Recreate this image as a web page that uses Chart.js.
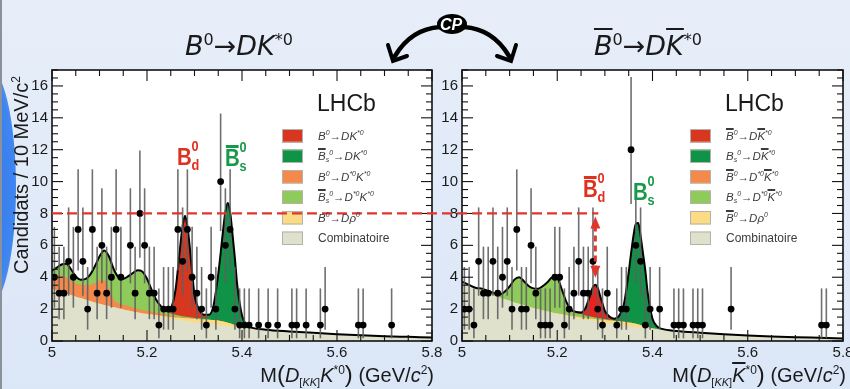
<!DOCTYPE html>
<html>
<head>
<meta charset="utf-8">
<script src="https://cdn.jsdelivr.net/npm/chart.js@4.4.1/dist/chart.umd.min.js"></script>
<style>
  body { margin: 0; width: 850px; height: 389px; overflow: hidden; position: relative;
         background: linear-gradient(180deg, #e7eef9 0%, #dbe6f7 100%);
         font-family: "Liberation Sans", Arial, sans-serif; color: #1a1a1a; }
  canvas { position: absolute; top: 0; }
  #cL { left: 0; }
  #cR { left: 440px; }
  .abs { position: absolute; white-space: nowrap; }
  #blob { left: -44px; top: 64px; width: 60px; height: 246px; border-radius: 50%;
          background: radial-gradient(ellipse at 30% 50%, #2c6fe9 0%, #3f86f0 70%, #7fb0f4 100%); }
  #edge { left: 0; top: 0; width: 2px; height: 389px; background: #8b919b; }
  .title { font-family: "DejaVu Sans", sans-serif; font-style: italic; font-size: 27px; line-height: 30px;
           width: 240px; text-align: center; top: 31px; }
  .title sup { font-size: 16px; font-style: normal; vertical-align: 10px; line-height: 0; }
  .ol { text-decoration: overline; text-decoration-thickness: 1.5px; }
  .ytitle { font-size: 20px; line-height: 24px; width: 240px; height: 24px; text-align: center;
            left: -99px; top: 163px; transform: rotate(-90deg); }
  .ytitle sup, .xtitle sup { font-size: 12px; vertical-align: 8px; line-height: 0; }
  .xtitle { font-size: 20px; line-height: 24px; width: 240px; text-align: right; top: 362px; }
  .xtitle sub { font-size: 11px; vertical-align: -4px; line-height: 0; }
  .xtitle .big { font-size: 24px; }
  .lhcb { font-size: 23px; line-height: 23px; top: 92px; }
  .leg { font-size: 11.5px; line-height: 14px; font-style: italic; color: #3b3b3b; }
  .leg sup, .leg sub { font-size: 7px; line-height: 0; }
  .leg sup { vertical-align: 5px; }
  .leg sub { vertical-align: -2px; }
  .leg.plain { font-style: normal; font-size: 12px; }
  .pk { position: absolute; width: 40px; height: 34px; transform: scaleX(.85); transform-origin: 0 0; font-weight: bold; }
  .pk .b { position: absolute; left: 0; top: 5px; font-size: 24px; line-height: 24px; }
  .pk .up { position: absolute; left: 17px; top: -2px; font-size: 15px; line-height: 15px; }
  .pk .dn { position: absolute; left: 17px; top: 17px; font-size: 15px; line-height: 15px; }
  .pk .bar { position: absolute; left: 1px; top: 4px; width: 15px; height: 2.5px; background: currentColor; }
  .red { color: #e0301e; }
  .grn { color: #169a49; }
</style>
</head>
<body>
<div class="abs" id="blob"></div>
<div class="abs" id="edge"></div>
<canvas id="cL" width="460" height="389" style="width:460px;height:389px"></canvas>
<canvas id="cR" width="430" height="389" style="width:430px;height:389px"></canvas>

<div class="abs title" style="left:119px"><i>B</i><sup>0</sup>→<i>DK</i><sup>*0</sup></div>
<div class="abs title" style="left:528px"><i class="ol">B</i><sup>0</sup>→<i>D<span class="ol">K</span></i><sup>*0</sup></div>

<svg class="abs" style="left:0;top:0" width="850" height="70">
  <path d="M440 27 Q411 29 395 56" fill="none" stroke="#000" stroke-width="4.5" stroke-linecap="round"/>
  <path d="M388 45 L393 61 L407 56" fill="none" stroke="#000" stroke-width="4" stroke-linejoin="miter" stroke-linecap="round"/>
  <path d="M464 27 Q493 29 509 56" fill="none" stroke="#000" stroke-width="4.5" stroke-linecap="round"/>
  <path d="M516 45 L511 61 L497 56" fill="none" stroke="#000" stroke-width="4" stroke-linejoin="miter" stroke-linecap="round"/>
  <ellipse cx="452" cy="24" rx="15" ry="10" fill="#000"/>
  <text x="451" y="30" text-anchor="middle" fill="#fff" font-family="Liberation Sans, Arial" font-weight="bold" font-style="italic" font-size="16">CP</text>
</svg>

<div class="abs ytitle">Candidats / 10 MeV/c<sup>2</sup></div>
<div class="abs xtitle" style="left:194px">M<span class="big">(</span><i>D</i><sub>[<i>KK</i>]</sub><i>K</i><sup>*0</sup><span class="big">)</span> (GeV/<i>c</i><sup>2</sup>)</div>
<div class="abs xtitle" style="left:606px">M<span class="big">(</span><i>D</i><sub>[<i>KK</i>]</sub><i class="ol">K</i><sup>*0</sup><span class="big">)</span> (GeV/<i>c</i><sup>2</sup>)</div>

<div class="abs lhcb" style="left:317px">LHCb</div>
<div class="abs lhcb" style="left:725px">LHCb</div>

<div class="pk red" style="left:177px;top:140px"><span class="b">B</span><span class="up">0</span><span class="dn">d</span></div>
<div class="pk grn" style="left:225px;top:141px"><span class="bar"></span><span class="b">B</span><span class="up">0</span><span class="dn">s</span></div>
<div class="pk red" style="left:583px;top:172px"><span class="bar"></span><span class="b">B</span><span class="up">0</span><span class="dn">d</span></div>
<div class="pk grn" style="left:633px;top:175px"><span class="b">B</span><span class="up">0</span><span class="dn">s</span></div>

<script>
// common mass grid (GeV/c^2) on which the fitted components were read
const massGrid = [5.00,5.01,5.02,5.03,5.04,5.05,5.06,5.07,5.08,5.09,
  5.10,5.11,5.12,5.13,5.14,5.15,5.16,5.17,5.18,5.19,
  5.20,5.21,5.22,5.23,5.24,5.25,5.26,5.265,5.27,5.275,
  5.28,5.285,5.29,5.295,5.30,5.31,5.32,5.33,5.34,5.35,
  5.355,5.36,5.365,5.37,5.375,5.38,5.385,5.39,5.40,5.41,
  5.42,5.45,5.50,5.55,5.60,5.65,5.70,5.75,5.80];

// left panel: B0 -> D K*0
const combL = [3.30,3.19,3.08,2.98,2.88,2.78,2.69,2.60,2.51,2.42,
  2.34,2.26,2.19,2.11,2.04,1.97,1.91,1.84,1.78,1.72,
  1.66,1.61,1.55,1.50,1.45,1.40,1.35,1.33,1.31,1.28,
  1.26,1.24,1.22,1.20,1.18,1.14,1.10,1.07,1.03,1.00,
  0.98,0.97,0.95,0.93,0.92,0.90,0.89,0.87,0.84,0.81,
  0.79,0.71,0.60,0.51,0.43,0.36,0.30,0.26,0.22];
const rhoL = [0,0,0,0,0,0,0,0,0,0,
  0,0,0,0,0,0,0.01,0.01,0.02,0.02,
  0.05,0.07,0.08,0.09,0.10,0.11,0.13,0.14,0.15,0.16,
  0.17,0.18,0.19,0.20,0.21,0.23,0.25,0.27,0.28,0.28,
  0.27,0.26,0.24,0.22,0.19,0.15,0.11,0.07,0.03,0.01,
  0,0,0,0,0,0,0,0,0];
const dstL = [0.75,0.95,1.05,1.00,0.90,0.85,0.85,0.90,1.00,1.20,
  1.45,1.55,1.10,0.50,0.35,0.30,0.28,0.25,0.22,0.20,
  0.18,0.16,0.14,0.12,0.10,0.08,0.06,0.05,0.05,0.04,
  0.04,0.03,0.03,0.03,0.02,0.02,0.01,0,0,0,
  0,0,0,0,0,0,0,0,0,0,
  0,0,0,0,0,0,0,0,0];
const bsDstL = [0.35,0.46,0.67,0.87,0.72,0.42,0.31,0.38,0.64,1.05,
  1.51,1.87,2.01,1.89,1.61,1.63,1.85,2.16,2.42,2.42,
  2.01,1.36,0.78,0.44,0.20,0.14,0.10,0.09,0.08,0.07,
  0.06,0.05,0.05,0.04,0.04,0.03,0.02,0.01,0,0,
  0,0,0,0,0,0,0,0,0,0,
  0,0,0,0,0,0,0,0,0];
const bsL = [0,0,0,0,0,0,0,0,0,0,
  0,0,0,0,0,0,0,0,0,0,
  0,0,0,0,0,0,0,0,0,0,
  0,0,0,0,0,0.03,0.10,0.23,0.89,2.92,
  4.25,5.67,6.91,7.50,6.99,5.65,4.20,2.56,0.73,0.18,
  0.05,0,0,0,0,0,0,0,0];
const bdL = [0,0,0,0,0,0,0,0,0,0,
  0,0,0,0,0,0,0,0,0,0,
  0,0,0,0.01,0.05,0.32,1.56,2.89,4.36,5.65,
  6.32,5.70,4.41,2.83,1.45,0.50,0.17,0.06,0.02,0,
  0,0,0,0,0,0,0,0,0,0,
  0,0,0,0,0,0,0,0,0];

// right panel: B0bar -> D K*0bar
const combR = [3.72,3.58,3.44,3.31,3.18,3.06,2.94,2.83,2.72,2.62,
  2.52,2.42,2.33,2.24,2.15,2.07,1.99,1.91,1.84,1.77,
  1.70,1.64,1.57,1.51,1.45,1.40,1.34,1.32,1.29,1.27,
  1.24,1.22,1.19,1.17,1.15,1.10,1.06,1.02,0.98,0.94,
  0.92,0.90,0.89,0.87,0.85,0.83,0.82,0.80,0.77,0.74,
  0.71,0.63,0.52,0.43,0.35,0.29,0.24,0.20,0.16];
const rhoR = [0,0,0,0,0,0,0,0,0,0,
  0,0,0,0,0,0,0.01,0.01,0.02,0.02,
  0.04,0.05,0.06,0.07,0.08,0.09,0.10,0.11,0.12,0.13,
  0.14,0.14,0.15,0.16,0.17,0.19,0.20,0.22,0.22,0.22,
  0.22,0.21,0.19,0.18,0.15,0.12,0.09,0.06,0.02,0.01,
  0,0,0,0,0,0,0,0,0];
const dstR = [0,0,0,0,0,0,0,0,0,0,
  0,0,0,0,0,0,0,0,0,0,
  0,0,0,0,0,0,0,0,0,0,
  0,0,0,0,0,0,0,0,0,0,
  0,0,0,0,0,0,0,0,0,0,
  0,0,0,0,0,0,0,0,0];
const bsDstR = [0,0,0,0.02,0.12,0.14,0.14,0.15,0.20,0.48,
  0.90,1.43,1.67,1.51,1.30,1.23,1.28,1.53,1.84,2.21,
  2.21,1.51,0.77,0.37,0.27,0.20,0.16,0.14,0.12,0.11,
  0.10,0.09,0.08,0.07,0.06,0.04,0.03,0.02,0.01,0,
  0,0,0,0,0,0,0,0,0,0,
  0,0,0,0,0,0,0,0,0];
const bsR = [0,0,0,0,0,0,0,0,0,0,
  0,0,0,0,0,0,0,0,0,0,
  0,0,0,0,0,0,0,0,0,0,
  0,0,0,0,0,0.02,0.06,0.30,1.09,3.14,
  4.36,5.49,6.27,6.35,5.60,4.55,3.49,2.14,0.61,0.15,
  0.05,0,0,0,0,0,0,0,0];
const bdR = [0,0,0,0,0,0,0,0,0,0,
  0,0,0,0,0,0,0,0,0,0,
  0,0,0,0,0.02,0.10,0.50,0.95,1.42,1.88,
  2.05,1.88,1.42,0.95,0.50,0.17,0.05,0.02,0,0,
  0,0,0,0,0,0,0,0,0,0,
  0,0,0,0,0,0,0,0,0];

// candidates per 10 MeV bin, 80 bins from 5.00 to 5.80
const countsL = [4,3,3,5,4,7,5,2,7,3,
  6,3,4,7,4,0,6,3,8,6,
  3,3,1,2,2,2,7,5,7,4,
  3,2,1,4,2,10,6,7,2,1,
  1,1,0,1,0,1,0,1,0,0,
  1,1,0,1,0,0,1,2,0,0,
  0,0,0,0,1,1,0,0,0,0,
  0,1,0,0,0,0,0,0,0,0];
const countsR = [2,2,1,5,3,3,5,3,4,5,
  2,7,2,2,6,3,1,1,1,4,
  4,1,2,3,5,3,3,5,2,1,
  3,0,1,2,2,12,6,5,1,2,
  0,2,0,0,1,1,1,0,1,1,
  1,0,0,0,0,0,2,0,0,0,
  0,0,0,0,0,0,0,0,0,0,
  0,0,0,0,0,1,1,0,0,0];

// 68% Poisson interval for n = 0..12
const poissonLow  = [0, 0.17, 0.71, 1.37, 2.09, 2.84, 3.62, 4.42, 5.23, 6.06, 6.89, 7.73, 8.59];
const poissonHigh = [1.84, 3.30, 4.64, 5.92, 7.16, 8.38, 9.58, 10.77, 11.95, 13.11, 14.27, 15.42, 16.56];

const xTickValues = [5, 5.2, 5.4, 5.6, 5.8];
const xTickLabels = ['5', '5.2', '5.4', '5.6', '5.8'];
const yTickValues = [0, 2, 4, 6, 8, 10, 12, 14, 16];
const yTickLabels = ['0', '2', '4', '6', '8', '10', '12', '14', '16'];

const legendLeft = [
  '<i>B</i><sup>0</sup>→<i>DK</i><sup>*0</sup>',
  '<i class="ol">B</i><sub>s</sub><sup>0</sup>→<i>DK</i><sup>*0</sup>',
  '<i>B</i><sup>0</sup>→<i>D</i><sup>*0</sup><i>K</i><sup>*0</sup>',
  '<i class="ol">B</i><sub>s</sub><sup>0</sup>→<i>D</i><sup>*0</sup><i>K</i><sup>*0</sup>',
  '<i>B</i><sup>0</sup>→<i>D</i>ρ<sup>0</sup>',
  'Combinatoire'
];
const legendRight = [
  '<i class="ol">B</i><sup>0</sup>→<i>D<span class="ol">K</span></i><sup>*0</sup>',
  '<i>B</i><sub>s</sub><sup>0</sup>→<i>D<span class="ol">K</span></i><sup>*0</sup>',
  '<i class="ol">B</i><sup>0</sup>→<i>D</i><sup>*0</sup><i class="ol">K</i><sup>*0</sup>',
  '<i>B</i><sub>s</sub><sup>0</sup>→<i>D</i><sup>*0</sup><i class="ol">K</i><sup>*0</sup>',
  '<i class="ol">B</i><sup>0</sup>→<i>D</i>ρ<sup>0</sup>',
  'Combinatoire'
];

// stacking order bottom -> top: comb, D rho, D* K* (B0), D* K* (Bs), Bs peak, B0 peak
const fillColors = ['#dfe1cd', '#fbdb84', '#f5894b', '#8ecb5a', '#0f9447', '#d8361f'];
const fillColorsR = ['#dfe1cd', '#fbdb84', '#f5894b', '#8ecb5a', '#0f9447', '#e8221d'];
const legendColors = ['#d8361f', '#0f9447', '#f5894b', '#8ecb5a', '#fbdb84', '#dfe1cd'];
const legendTops = [129, 149.5, 170, 190.5, 211, 231.5];

function stackLayers(layers) {
  let run = massGrid.map(() => 0);
  return layers.map(layer => {
    run = run.map((v, i) => v + layer[i]);
    return run;
  });
}

function line(ctx, x1, y1, x2, y2) {
  ctx.beginPath(); ctx.moveTo(x1, y1); ctx.lineTo(x2, y2); ctx.stroke();
}

const decor = {
  id: 'decor',
  beforeDraw(chart) {
    const { ctx, chartArea: a } = chart;
    ctx.save();
    ctx.fillStyle = '#fff';
    ctx.fillRect(a.left, a.top, a.right - a.left, a.bottom - a.top);
    ctx.restore();
  },
  beforeDatasetDraw(chart, args) {
    if (args.index !== 7) return;
    const { ctx, scales: { x, y } } = chart;
    ctx.save();
    ctx.strokeStyle = 'rgba(95,95,95,0.9)';
    ctx.lineWidth = 1.6;
    chart.data.datasets[7].data.forEach(p => {
      const px = x.getPixelForValue(p.x);
      line(ctx, px, y.getPixelForValue(poissonLow[p.y]), px, y.getPixelForValue(poissonHigh[p.y]));
    });
    ctx.restore();
  },
  afterDraw(chart) {
    const { ctx, chartArea: a, scales: { x, y } } = chart;
    const side = chart.options.plugins.decor.side;
    ctx.save();
    // inner ticks on all four sides
    ctx.strokeStyle = '#111';
    ctx.lineWidth = 1.1;
    for (let k = 0; k <= 16; k++) {
      const v = 5 + k * 0.05;
      const px = x.getPixelForValue(v);
      const L = k % 4 === 0 ? 11 : 6;
      line(ctx, px, a.bottom, px, a.bottom - L);
      line(ctx, px, a.top, px, a.top + L);
    }
    for (let k = 0; k <= 34; k++) {
      const py = y.getPixelForValue(k * 0.5);
      const L = k % 4 === 0 ? 11 : 6;
      line(ctx, a.left, py, a.left + L, py);
      line(ctx, a.right, py, a.right - L, py);
    }
    ctx.lineWidth = 1.6;
    ctx.strokeRect(a.left, a.top, a.right - a.left, a.bottom - a.top);

    // legend swatches
    const bx = side === 'L' ? 282 : 250;
    legendColors.forEach((c, k) => {
      ctx.fillStyle = c;
      ctx.fillRect(bx, legendTops[k], 21, 13.5);
      ctx.strokeStyle = '#b3b3ab';
      ctx.lineWidth = 1;
      ctx.strokeRect(bx + 0.5, legendTops[k] + 0.5, 20, 12.5);
    });

    // red dashed reference line at 8 candidates
    const y8 = y.getPixelForValue(8);
    ctx.strokeStyle = '#e2352b';
    ctx.lineWidth = 2.2;
    ctx.setLineDash([10, 5]);
    if (side === 'L') {
      line(ctx, a.left, y8, 440, y8);
    } else {
      ctx.lineDashOffset = 388;
      const xp = x.getPixelForValue(5.28);
      line(ctx, 0, y8, xp + 3, y8);
      // double arrow down to the B0bar peak
      const cum = chart.data.datasets[5].data;
      const top = cum[massGrid.indexOf(5.28)].y;
      const yp = y.getPixelForValue(top);
      ctx.setLineDash([6, 4]);
      ctx.lineDashOffset = 0;
      ctx.lineWidth = 3;
      line(ctx, xp, y8 + 12, xp, yp - 12);
      ctx.setLineDash([]);
      ctx.fillStyle = '#e2352b';
      ctx.beginPath(); ctx.moveTo(xp, y8 + 3); ctx.lineTo(xp - 5, y8 + 15); ctx.lineTo(xp + 5, y8 + 15); ctx.closePath(); ctx.fill();
      ctx.beginPath(); ctx.moveTo(xp, yp - 7); ctx.lineTo(xp - 5, yp - 19); ctx.lineTo(xp + 5, yp - 19); ctx.closePath(); ctx.fill();
    }
    ctx.restore();
  }
};

function buildChart(id, layers, counts, colors, side) {
  const cum = stackLayers(layers);
  const datasets = cum.map((c, k) => ({
    data: massGrid.map((m, i) => ({ x: m, y: c[i] })),
    backgroundColor: colors[k],
    borderColor: 'transparent',
    borderWidth: 0,
    pointRadius: 0,
    fill: 'origin',
    cubicInterpolationMode: 'monotone',
    order: 2 + k
  }));
  datasets.push({
    data: massGrid.map((m, i) => ({ x: m, y: cum[cum.length - 1][i] })),
    borderColor: '#000',
    borderWidth: 2,
    pointRadius: 0,
    fill: false,
    cubicInterpolationMode: 'monotone',
    order: 1
  });
  const points = [];
  counts.forEach((n, i) => { if (n > 0) points.push({ x: 5.005 + i * 0.01, y: n }); });
  datasets.push({
    data: points,
    showLine: false,
    pointRadius: 3.4,
    pointHoverRadius: 3.4,
    pointBackgroundColor: '#000',
    pointBorderWidth: 0,
    order: 0
  });

  const tickFont = { family: '"Liberation Sans", Arial, sans-serif', size: 15 };
  return new Chart(document.getElementById(id), {
    type: 'line',
    data: { datasets },
    options: {
      responsive: false,
      animation: false,
      events: [],
      layout: { autoPadding: false, padding: { left: 0, right: side === 'L' ? 28 : 27, top: 70, bottom: 0 } },
      plugins: { legend: { display: false }, tooltip: { enabled: false }, decor: { side } },
      scales: {
        x: {
          type: 'linear', min: 5, max: 5.8,
          afterBuildTicks: s => { s.ticks = xTickValues.map(v => ({ value: v })); },
          afterFit: s => { s.height = 48; },
          ticks: { font: tickFont, color: '#1a1a1a', padding: 3, maxRotation: 0, autoSkip: false,
                   callback: (v, i) => xTickLabels[i] },
          grid: { display: false, drawTicks: false },
          border: { display: false }
        },
        y: {
          min: 0, max: 17,
          afterBuildTicks: s => { s.ticks = yTickValues.map(v => ({ value: v })); },
          afterFit: s => { s.width = side === 'L' ? 52 : 22; },
          ticks: { font: tickFont, color: '#1a1a1a', padding: 4, callback: (v, i) => yTickLabels[i] },
          grid: { display: false, drawTicks: false },
          border: { display: false }
        }
      }
    },
    plugins: [decor]
  });
}

function buildLegend(labels, left) {
  labels.forEach((html, k) => {
    const d = document.createElement('div');
    d.className = 'abs leg' + (k === labels.length - 1 ? ' plain' : '');
    d.style.left = left + 'px';
    d.style.top = (legendTops[k] - 0.5) + 'px';
    d.innerHTML = html;
    document.body.appendChild(d);
  });
}

buildChart('cL', [combL, rhoL, dstL, bsDstL, bsL, bdL], countsL, fillColors, 'L');
buildChart('cR', [combR, rhoR, dstR, bsDstR, bsR, bdR], countsR, fillColorsR, 'R');
buildLegend(legendLeft, 318);
buildLegend(legendRight, 726);
</script>
</body>
</html>
